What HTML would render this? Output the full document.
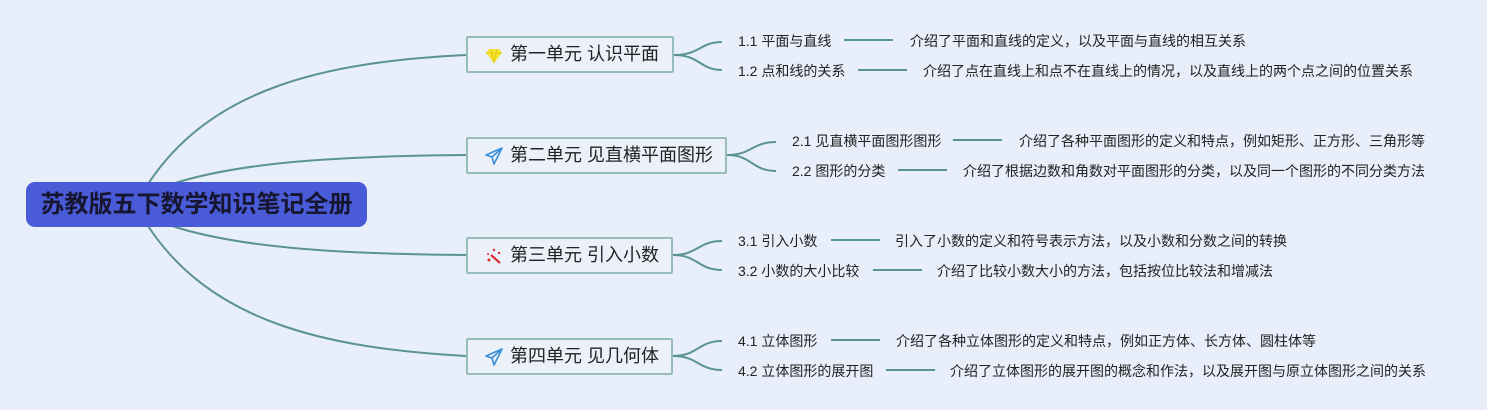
<!DOCTYPE html>
<html><head><meta charset="utf-8"><style>
body{margin:0;width:1487px;height:410px;background:#e9eefb;position:relative;overflow:hidden;font-family:"Liberation Sans","Noto Sans CJK SC",sans-serif;}
.root{position:absolute;left:26px;top:182px;width:341px;height:45px;background:#4a5bd8;border-radius:9px;box-sizing:border-box;font-weight:bold;font-size:24px;color:#161630;line-height:45px;text-align:center;}
.u{position:absolute;left:466px;height:37px;border:2px solid #97bcbc;border-radius:2px;box-sizing:border-box;background:#ebf0f9;font-size:18px;color:#222;line-height:33px;padding-left:42px;white-space:nowrap;}
.ic{position:absolute;left:17px;top:8px;width:18px;height:18px;}
.t{position:absolute;font-size:14px;color:#222;line-height:16px;white-space:nowrap;}
</style></head><body>
<svg width="1487" height="410" style="position:absolute;left:0;top:0" fill="none" stroke="#5a9490" stroke-width="2">
<path d="M148 184 C 210 90, 320 62, 466 55"/>
<path d="M172 184 C 240 162, 340 156, 466 155"/>
<path d="M172 226 C 240 248, 340 254, 466 255"/>
<path d="M148 226 C 210 320, 320 348, 466 356"/>
<path d="M674 55 C 700 55, 700 42, 722 42 M674 55 C 700 55, 700 70, 722 70"/>
<path d="M727 155 C 752 155, 752 142, 776 142 M727 155 C 752 155, 752 171, 776 171"/>
<path d="M673 255 C 698 255, 698 241, 722 241 M673 255 C 698 255, 698 270, 722 270"/>
<path d="M673 356 C 698 356, 698 341, 722 341 M673 356 C 698 356, 698 370, 722 370"/>
<g stroke-width="2">
<path d="M844 40H893 M858 70H907 M953 140H1002 M898 170H947 M831 240H880 M873 270H922 M831 340H880 M886 370H935"/>
</g>
</svg>
<div class="root">苏教版五下数学知识笔记全册</div>
<div class="u" style="top:36px;width:208px"><svg class="ic" viewBox="0 0 18 18"><path d="M4 3H14L17 7L9 17L1 7Z" fill="#f5e23a"/><path d="M1 7H17M6 3L9 17L12 3" stroke="#e6c80a" stroke-width="1" fill="none"/></svg>第一单元 认识平面</div>
<div class="u" style="top:137px;width:261px"><svg class="ic" viewBox="0 0 18 18"><path d="M17 1L1 8L7 10L9 17Z M17 1L7 10" stroke="#3b8fd8" stroke-width="1.6" fill="none" stroke-linejoin="round"/></svg>第二单元 见直横平面图形</div>
<div class="u" style="top:237px;width:207px"><svg class="ic" viewBox="0 0 18 18"><path d="M6 8L15 16" stroke="#d83030" stroke-width="2.2"/><circle cx="4" cy="13" r="1.5" fill="#d83030"/><circle cx="9" cy="3" r="1.2" fill="#d83030"/><circle cx="14" cy="6" r="1.2" fill="#d83030"/><circle cx="3" cy="7" r="1" fill="#d83030"/></svg>第三单元 引入小数</div>
<div class="u" style="top:338px;width:207px"><svg class="ic" viewBox="0 0 18 18"><path d="M17 1L1 8L7 10L9 17Z M17 1L7 10" stroke="#3b8fd8" stroke-width="1.6" fill="none" stroke-linejoin="round"/></svg>第四单元 见几何体</div>

<div class="t" style="left:738px;top:33px">1.1 平面与直线</div>
<div class="t" style="left:910px;top:33px">介绍了平面和直线的定义，以及平面与直线的相互关系</div>
<div class="t" style="left:738px;top:63px">1.2 点和线的关系</div>
<div class="t" style="left:923px;top:63px">介绍了点在直线上和点不在直线上的情况，以及直线上的两个点之间的位置关系</div>
<div class="t" style="left:792px;top:133px">2.1 见直横平面图形图形</div>
<div class="t" style="left:1019px;top:133px">介绍了各种平面图形的定义和特点，例如矩形、正方形、三角形等</div>
<div class="t" style="left:792px;top:163px">2.2 图形的分类</div>
<div class="t" style="left:963px;top:163px">介绍了根据边数和角数对平面图形的分类，以及同一个图形的不同分类方法</div>
<div class="t" style="left:738px;top:233px">3.1 引入小数</div>
<div class="t" style="left:895px;top:233px">引入了小数的定义和符号表示方法，以及小数和分数之间的转换</div>
<div class="t" style="left:738px;top:263px">3.2 小数的大小比较</div>
<div class="t" style="left:937px;top:263px">介绍了比较小数大小的方法，包括按位比较法和增减法</div>
<div class="t" style="left:738px;top:333px">4.1 立体图形</div>
<div class="t" style="left:896px;top:333px">介绍了各种立体图形的定义和特点，例如正方体、长方体、圆柱体等</div>
<div class="t" style="left:738px;top:363px">4.2 立体图形的展开图</div>
<div class="t" style="left:950px;top:363px">介绍了立体图形的展开图的概念和作法，以及展开图与原立体图形之间的关系</div>
</body></html>
